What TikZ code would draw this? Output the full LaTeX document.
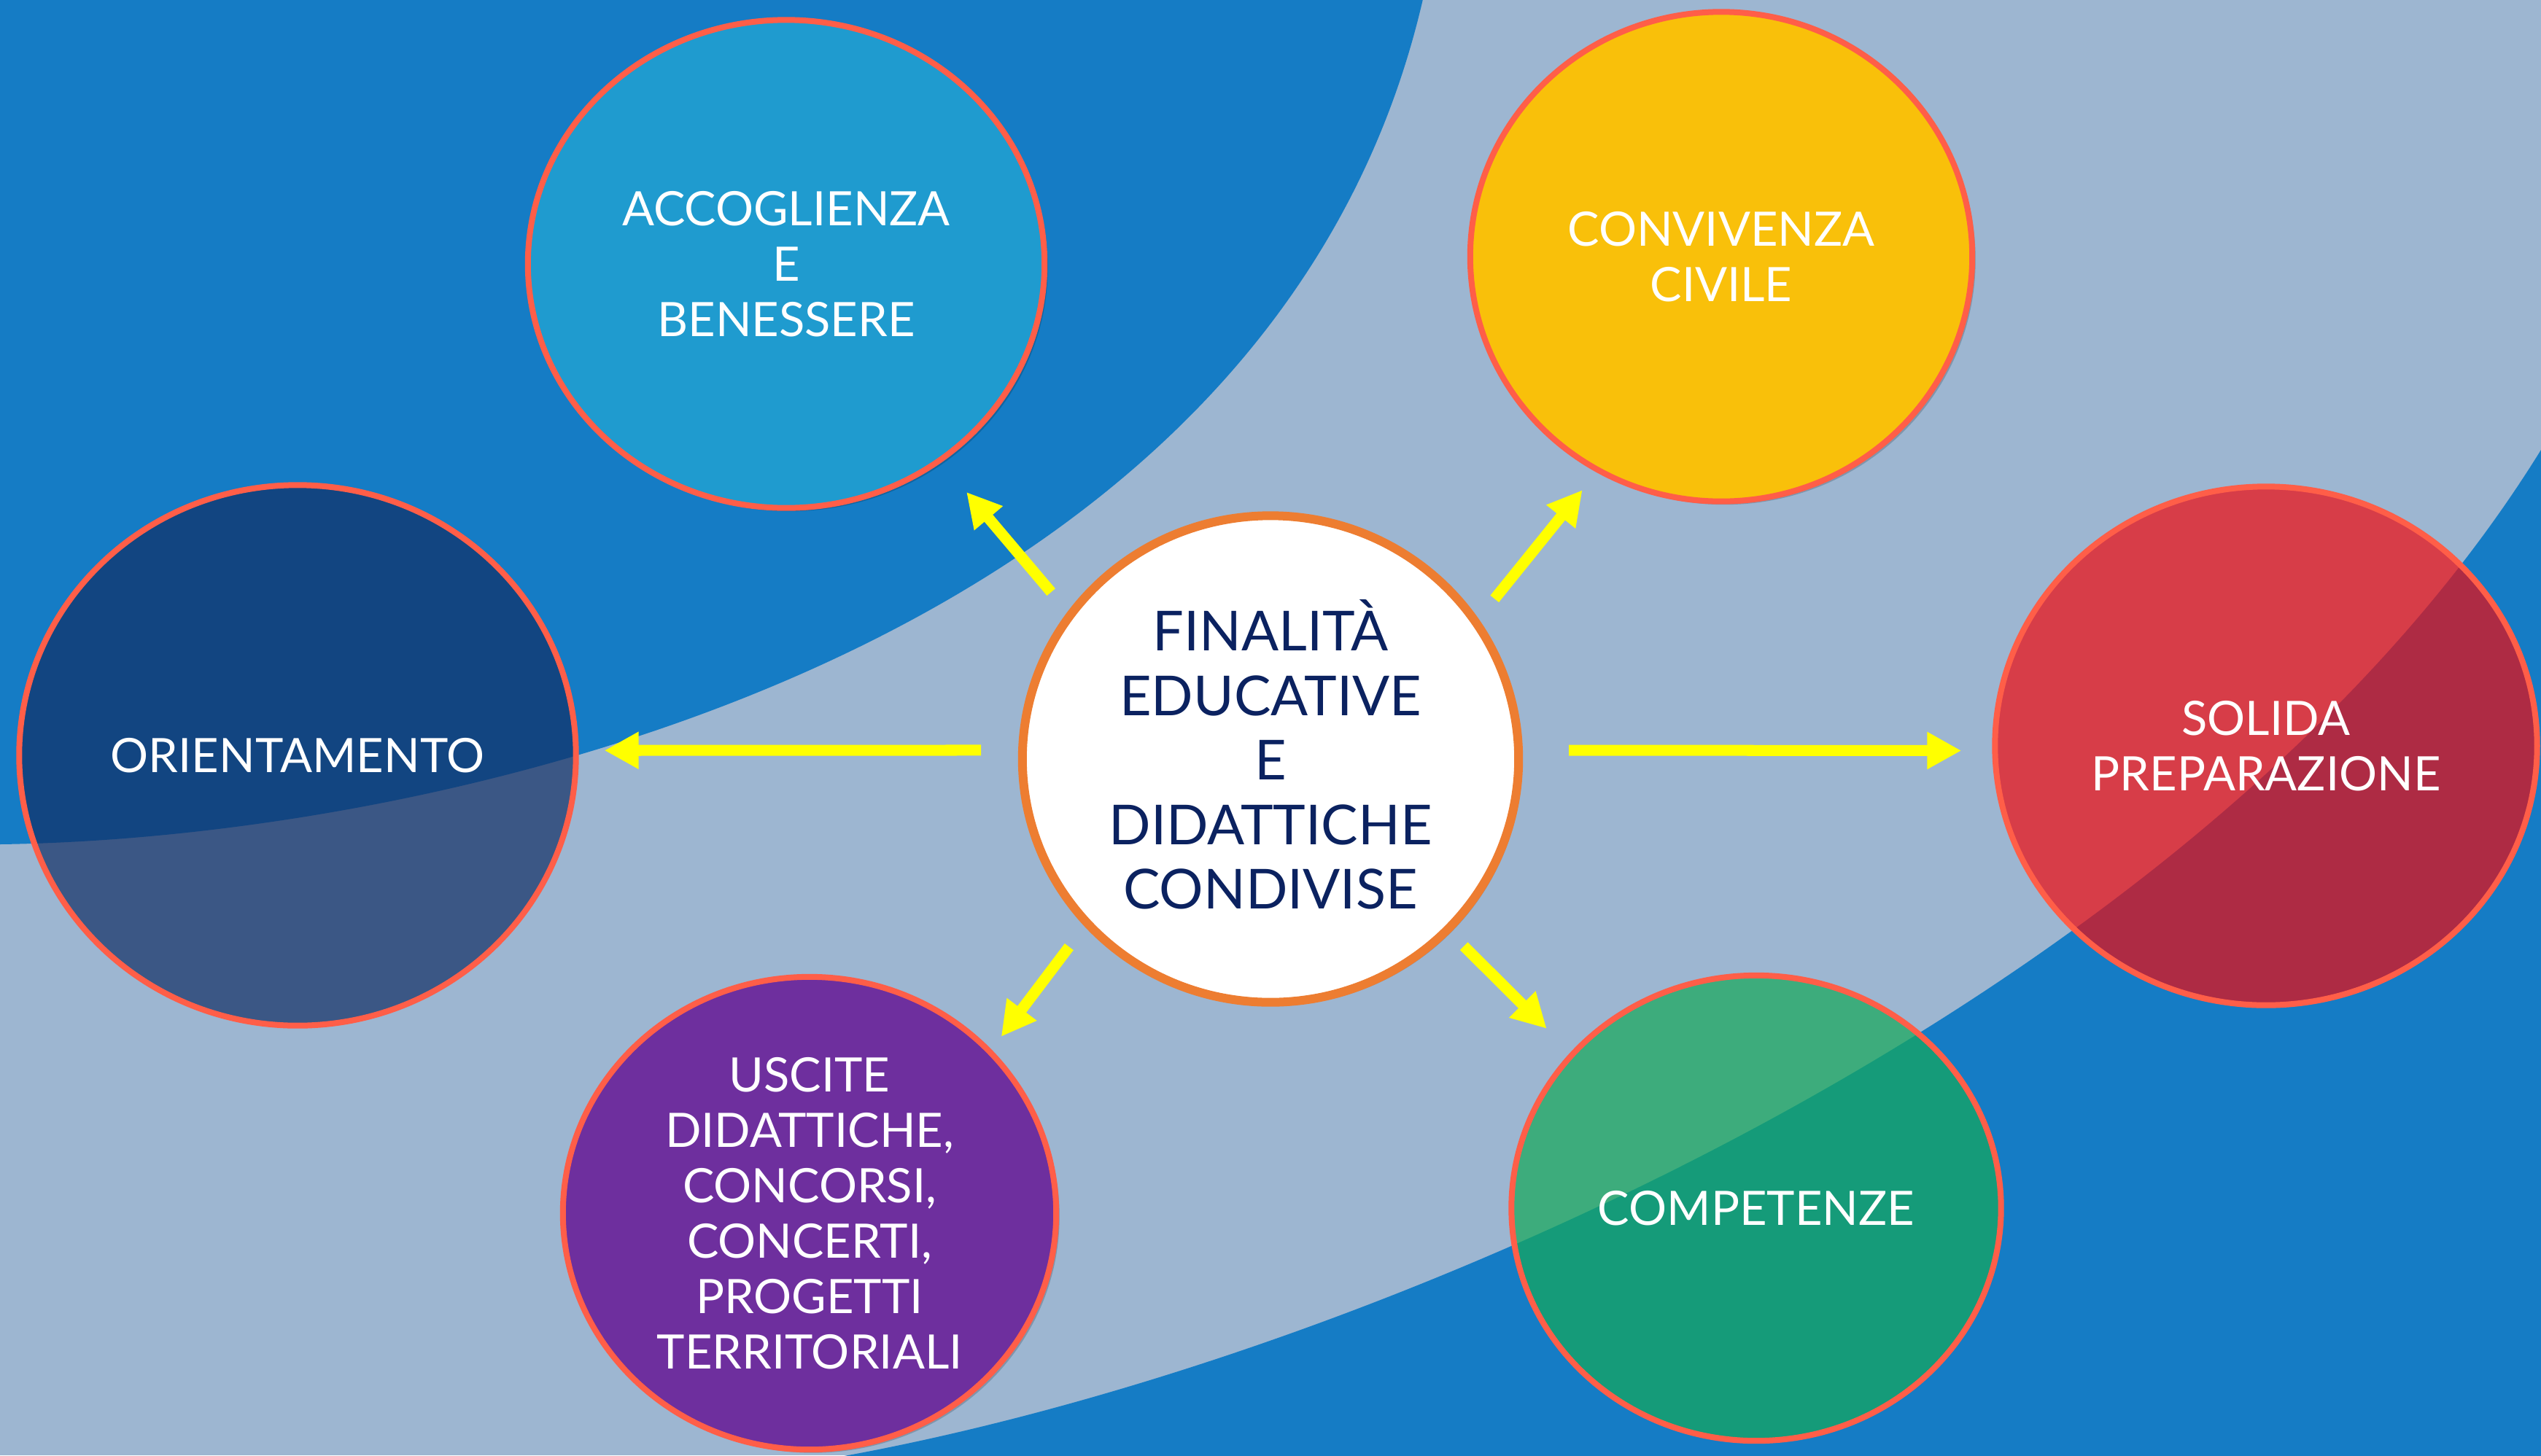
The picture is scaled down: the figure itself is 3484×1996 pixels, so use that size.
\documentclass[tikz,border=0pt]{standalone}
\usepackage{fontspec}
\setmainfont{Lato}
\usepackage{tikz}
\usetikzlibrary{positioning}
\usetikzlibrary{shapes.geometric}
\usetikzlibrary{arrows.meta}
\usetikzlibrary{shadows}

\definecolor{bglight}{HTML}{9DB6D1}
\definecolor{bgdark}{HTML}{157CC5}
\definecolor{acccol}{HTML}{1F9BCF}
\definecolor{convcol}{HTML}{F9C00A}
\definecolor{orientcol}{RGB}{18,47,101}
\definecolor{solcol}{RGB}{240,10,14}
\definecolor{compcol}{RGB}{21,169,89}
\definecolor{usccol}{HTML}{6E2F9E}
\definecolor{ringcol}{HTML}{FF5E48}
\definecolor{hubring}{HTML}{ED7D31}
\definecolor{hubtext}{HTML}{0B2260}
\definecolor{arrowcol}{HTML}{FFFF00}

\begin{document}
\begin{tikzpicture}[x=0.01cm,y=-0.01cm,
    bubble/.style={ellipse,draw=ringcol,line width=0.8mm,text=white,align=center,
      inner sep=0pt,font=\fontsize{18.5}{21.6}\selectfont},
    seethrough/.style={fill opacity=0.7,text opacity=1,draw opacity=1},
    shade/.style={drop shadow={shadow xshift=0.45mm,shadow yshift=-0.45mm,opacity=0.18,fill=black}},
    hubnode/.style={ellipse,draw=hubring,line width=1.2mm,fill=white,text=hubtext,align=center,
      inner sep=0pt,font=\fontsize{21.5}{25.2}\selectfont},
    flow/.style={draw=arrowcol,line width=1.5mm,-{Triangle[length=4.7mm,width=4.8mm]}}]
  \useasboundingbox (0,0) rectangle (3484,1996);
  \begin{scope}
    \clip (0,0) rectangle (3484,1996);
    \fill[bglight] (0,0) rectangle (3484,1996);
    \fill[bgdark] (-10,-10) -- (1953,-10) .. controls (1750,900) and (600,1150) .. (0,1158) -- (-10,1158) -- cycle;
    \fill[bgdark] (3500,600) -- (3484,617) .. controls (3000,1400) and (1800,1900) .. (1080,2010) -- (3500,2010) -- cycle;
  \end{scope}

  \node[bubble,shade,fill=acccol,minimum width=7.08cm,minimum height=6.69cm] (acc) at (1078,362) {ACCOGLIENZA\\E\\BENESSERE};
  \node[bubble,shade,fill=convcol,minimum width=6.88cm,minimum height=6.71cm] (conv) at (2360,352) {CONVIVENZA\\CIVILE};
  \node[bubble,seethrough,fill=orientcol,minimum width=7.63cm,minimum height=7.41cm] (orient) at (408,1036) {ORIENTAMENTO};
  \node[hubnode,shade,minimum width=6.80cm,minimum height=6.67cm] (hub) at (1742,1041) {FINALITÀ\\EDUCATIVE\\E\\DIDATTICHE\\CONDIVISE\vspace{1.2mm}};
  \node[bubble,seethrough,fill=solcol,minimum width=7.43cm,minimum height=7.11cm] (sol) at (3107,1023) {SOLIDA\\PREPARAZIONE};
  \node[bubble,shade,fill=usccol,minimum width=6.76cm,minimum height=6.48cm] (usc) at (1110,1664) {USCITE\\DIDATTICHE,\\CONCORSI,\\CONCERTI,\\PROGETTI\\TERRITORIALI};
  \node[bubble,seethrough,fill=compcol,minimum width=6.71cm,minimum height=6.38cm] (comp) at (2408,1657) {COMPETENZE};

  \draw[flow,shorten <=5.1mm,shorten >=3.5mm] (hub.178) -- (orient.1);
  \draw[flow,shorten <=6.3mm,shorten >=4.2mm] (hub.2) -- (sol.181);
  \draw[flow,shorten <=3.5mm,shorten >=5.3mm] (hub.144) -- (acc.-52);
  \draw[flow,shorten <=3.5mm,shorten >=3.1mm] (hub.34) -- (conv.-120);
  \draw[flow,shorten <=3.5mm,shorten >=2.2mm] (hub.-138) -- (usc.42);
  \draw[flow,shorten <=2.6mm,shorten >=4.6mm] (hub.-44) -- (comp.140);
\end{tikzpicture}
\end{document}
